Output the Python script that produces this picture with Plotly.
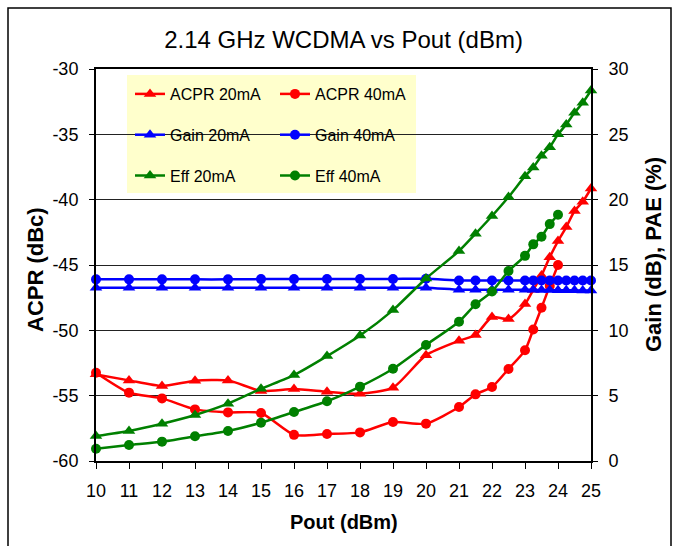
import plotly.graph_objects as go

# ---------------- data ----------------
x_full = [10, 11, 12, 13, 14, 15, 16, 17, 18, 19, 20, 21, 21.5, 22, 22.5, 23,
          23.25, 23.5, 23.75, 24, 24.25, 24.5, 24.75, 25]
x_40 = [10, 11, 12, 13, 14, 15, 16, 17, 18, 19, 20, 21, 21.5, 22, 22.5, 23,
        23.25, 23.5, 23.75, 24]

acpr_20 = [-53.37, -53.83, -54.26, -53.85, -53.83, -54.64, -54.49, -54.70, -54.85, -54.39,
           -51.90, -50.80, -50.36, -48.98, -49.14, -47.98, -46.90, -45.80, -44.40, -43.17,
           -42.10, -40.87, -40.16, -39.14]
acpr_40 = [-53.24, -54.77, -55.21, -56.05, -56.28, -56.33, -58.00, -57.93, -57.81, -57.02,
           -57.14, -55.87, -54.90, -54.34, -52.96, -51.53, -49.93, -48.27, -46.60, -45.00]
gain_20 = [13.25, 13.25, 13.25, 13.25, 13.25, 13.25, 13.25, 13.25, 13.25, 13.25,
           13.26, 13.11, 13.11, 13.10, 13.10, 13.10, 13.10, 13.08, 13.08, 13.07,
           13.07, 13.06, 13.05, 13.05]
gain_40 = [13.90, 13.90, 13.90, 13.90, 13.90, 13.92, 13.92, 13.93, 13.93, 13.93,
           13.95, 13.82, 13.82, 13.82, 13.82, 13.82, 13.82, 13.82, 13.82, 13.82,
           13.82, 13.82, 13.82, 13.82]
eff_20 = [1.91, 2.30, 2.85, 3.52, 4.39, 5.53, 6.58, 8.03, 9.61, 11.55, 13.97, 16.07, 17.39,
          18.75, 20.20, 21.80, 22.46, 23.36, 24.02, 25.00, 25.76, 26.65, 27.42, 28.36]
eff_40 = [0.94, 1.22, 1.48, 1.89, 2.30, 2.93, 3.75, 4.57, 5.69, 7.06, 8.88, 10.66, 11.99,
          12.97, 14.54, 15.70, 16.58, 17.16, 18.13, 18.84]

x_ticks = list(range(10, 26))
left_ticks = [-60, -55, -50, -45, -40, -35, -30]
right_ticks = [0, 5, 10, 15, 20, 25, 30]

RED, BLUE, GREEN = "#FF0000", "#0000FF", "#008000"
FONT = "Liberation Sans, Arial, sans-serif"

series = [
    ("ACPR 20mA", x_full, acpr_20, RED, "triangle-up", "y", "legend"),
    ("ACPR 40mA", x_40, acpr_40, RED, "circle", "y", "legend2"),
    ("Gain 20mA", x_full, gain_20, BLUE, "triangle-up", "y2", "legend"),
    ("Gain 40mA", x_full, gain_40, BLUE, "circle", "y2", "legend2"),
    ("Eff 20mA", x_full, eff_20, GREEN, "triangle-up", "y2", "legend"),
    ("Eff 40mA", x_40, eff_40, GREEN, "circle", "y2", "legend2"),
]

fig = go.Figure()
for name, xs, ys, col, sym, yax, leg in series:
    fig.add_trace(go.Scatter(
        x=xs, y=ys, name=name, yaxis=yax, legend=leg, legendgroup=name,
        mode="lines+markers",
        line=dict(color=col, width=2.5, shape="spline", smoothing=0.6),
        marker=dict(color=col, symbol=sym, size=10 if sym == "circle" else 11),
        cliponaxis=False,
    ))

L, R, T, B = 96, 83, 69, 85
W, H = 674, 546
pw, ph = W - L - R, H - T - B

def px_x(px):
    return (px - L) / pw

def px_y(py):
    return (H - B - py) / ph

legend_common = dict(
    bgcolor="rgba(0,0,0,0)", borderwidth=0, orientation="v",
    font=dict(family=FONT, size=16, color="black"),
    tracegroupgap=17, xanchor="left", yanchor="top", itemwidth=30,
)

fig.update_layout(
    width=W, height=H,
    margin=dict(l=L, r=R, t=T, b=B),
    paper_bgcolor="white", plot_bgcolor="white",
    font=dict(family=FONT, size=18, color="black"),
    showlegend=True,
    title=dict(text="2.14 GHz WCDMA vs Pout (dBm)", x=0.5, xref="paper", xanchor="center",
               y=1 - 40 / H, yref="container", yanchor="middle",
               font=dict(family=FONT, size=24, color="black")),
    xaxis=dict(range=[10, 25], tickvals=x_ticks, ticktext=[str(v) for v in x_ticks],
               showgrid=False, zeroline=False, showline=True, linecolor="black", linewidth=2,
               mirror=True, ticks="outside", ticklen=6, tickwidth=1, tickcolor="black",
               ticklabelstandoff=6, tickfont=dict(size=18)),
    yaxis=dict(range=[-60, -30], tickvals=left_ticks, ticktext=[str(v) for v in left_ticks],
               showgrid=True, gridcolor="#222222", gridwidth=1, zeroline=False,
               showline=True, linecolor="black", linewidth=2,
               ticks="outside", ticklen=5, tickwidth=1, tickcolor="black",
               ticklabelstandoff=7, tickfont=dict(size=18)),
    yaxis2=dict(range=[0, 30], tickvals=right_ticks, ticktext=[str(v) for v in right_ticks],
                overlaying="y", side="right", showgrid=False, zeroline=False,
                showline=True, linecolor="black", linewidth=2,
                ticks="outside", ticklen=5, tickwidth=1, tickcolor="black",
                ticklabelstandoff=7, tickfont=dict(size=18)),
    legend=dict(x=px_x(130), y=px_y(77), **legend_common),
    legend2=dict(x=px_x(275), y=px_y(77), **legend_common),
)

# legend background box
fig.add_shape(type="rect", xref="paper", yref="paper",
              x0=px_x(127), x1=px_x(416), y0=px_y(193), y1=px_y(75),
              fillcolor="#FFFFCC", line=dict(width=0), layer="between")
# chart border
fig.add_shape(type="rect", xref="paper", yref="paper",
              x0=px_x(8), x1=px_x(671), y0=px_y(560), y1=px_y(8),
              fillcolor="rgba(0,0,0,0)", line=dict(color="black", width=1.5), layer="above")

fig.add_annotation(text="<b>ACPR (dBc)</b>", xref="paper", yref="paper",
                   x=px_x(35), y=px_y(270), textangle=-90, showarrow=False,
                   xanchor="center", yanchor="middle",
                   font=dict(family=FONT, size=22, color="black"))
fig.add_annotation(text="<b>Gain (dB), PAE (%)</b>", xref="paper", yref="paper",
                   x=px_x(653), y=px_y(255), textangle=-90, showarrow=False,
                   xanchor="center", yanchor="middle",
                   font=dict(family=FONT, size=22, color="black"))
fig.add_annotation(text="<b>Pout (dBm)</b>", xref="paper", yref="paper",
                   x=0.5, y=px_y(522), showarrow=False,
                   xanchor="center", yanchor="middle",
                   font=dict(family=FONT, size=20, color="black"))

fig.write_html("out.html")
